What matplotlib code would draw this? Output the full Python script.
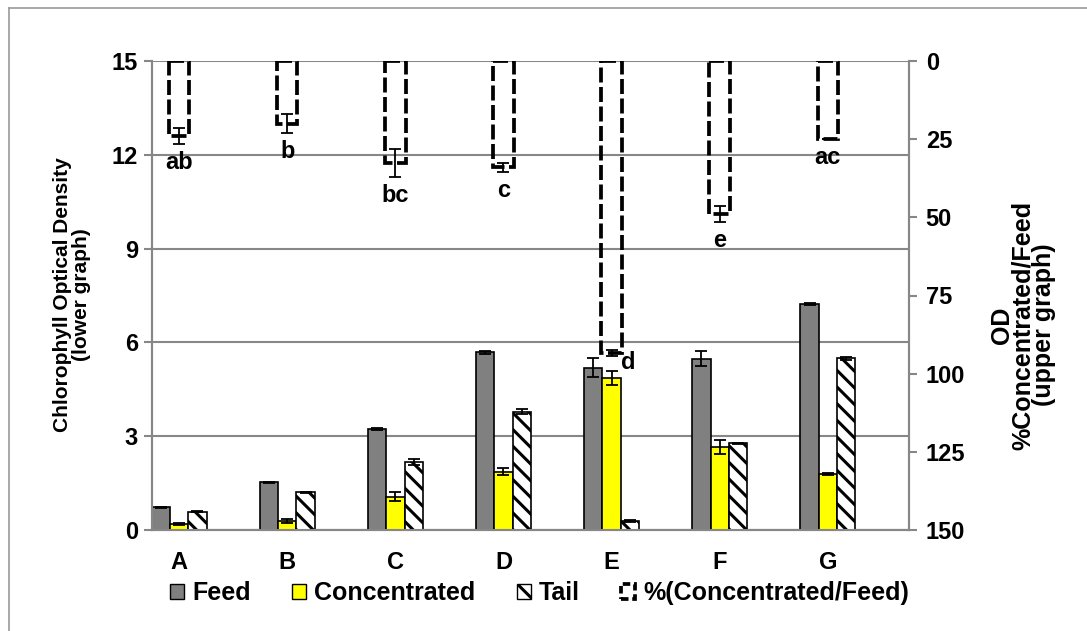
import matplotlib
matplotlib.use("Agg")
import matplotlib.pyplot as plt
import numpy as np
from matplotlib.patches import Patch
from matplotlib.lines import Line2D

# ---- data ----
categories = ["A", "B", "C", "D", "E", "F", "G"]
feed = [0.72, 1.53, 3.23, 5.68, 5.19, 5.47, 7.23]
feed_err = [0.02, 0.02, 0.04, 0.04, 0.30, 0.24, 0.02]
concentrated = [0.19, 0.29, 1.07, 1.87, 4.87, 2.66, 1.78]
conc_err = [0.03, 0.06, 0.15, 0.12, 0.23, 0.23, 0.03]
tail = [0.59, 1.20, 2.18, 3.78, 0.30, 2.77, 5.49]
tail_err = [0.02, 0.03, 0.10, 0.08, 0.03, 0.02, 0.04]
pct = [24.0, 20.0, 32.5, 34.0, 93.5, 49.0, 25.0]
pct_err = [2.5, 3.0, 4.5, 1.5, 1.0, 2.5, 0.0]
letters = ["ab", "b", "bc", "c", "d", "e", "ac"]
left_ticks = [0, 3, 6, 9, 12, 15]
right_ticks = [0, 25, 50, 75, 100, 125, 150]

FONT = "Liberation Sans"
FS = 17
plt.rcParams["font.family"] = [FONT, "DejaVu Sans"]
plt.rcParams["font.weight"] = "bold"
plt.rcParams["hatch.linewidth"] = 2.2

W, H = 1087, 631
fig = plt.figure(figsize=(W / 100, H / 100), dpi=100)
L, R, T, B = 152, 909, 61, 530
ax = fig.add_axes([L / W, 1 - B / H, (R - L) / W, (B - T) / H])
ax2 = ax.twinx()

GRID = "#878787"
x = np.arange(len(categories))
bw = 0.17

ekw = dict(ecolor="black", elinewidth=1.3, capsize=4.5, capthick=1.3)
ax.bar(x - bw, feed, bw, color="#808080", edgecolor="black", linewidth=1.2,
       yerr=feed_err, error_kw=ekw, zorder=3)
ax.bar(x, concentrated, bw, color="#ffff00", edgecolor="black", linewidth=1.2,
       yerr=conc_err, error_kw=ekw, zorder=3)
ax.bar(x + bw, tail, bw, color="white", edgecolor="black", linewidth=1.2,
       hatch="\\\\", yerr=tail_err, error_kw=ekw, zorder=3)

ax.set_xlim(-0.25, 6.75)
ax.set_ylim(0, 15)
ax.set_yticks(left_ticks)
ax.yaxis.grid(True, color=GRID, linewidth=1.5, zorder=0)
ax.set_axisbelow(True)
ax.set_xticks(x)
ax.set_xticklabels(categories, fontsize=FS, fontweight="bold")
ax.tick_params(axis="x", length=0, pad=15)
ax.tick_params(axis="y", length=6, color=GRID, width=1.5, labelsize=FS, pad=4)
ax.spines["top"].set_visible(False)
for s in ["left", "bottom", "right"]:
    ax.spines[s].set_color(GRID)
    ax.spines[s].set_linewidth(1.5)

# upper graph: percent bars on inverted secondary axis
ax2.bar(x, pct, 0.19, fill=False, edgecolor="black", linewidth=2.7,
        linestyle=(0, (4.0, 1.2)), zorder=4)
ax2.errorbar(x, pct, yerr=pct_err, fmt="none", ecolor="black",
             elinewidth=1.3, capsize=4.5, capthick=1.3, zorder=5)
ax2.set_ylim(150, 0)
ax2.set_yticks(right_ticks)
ax2.tick_params(axis="y", length=6, color=GRID, width=1.5, labelsize=FS, pad=6)
ax2.spines["top"].set_visible(False)
for s in ["left", "bottom", "right"]:
    ax2.spines[s].set_color(GRID)
    ax2.spines[s].set_linewidth(1.5)

for i, lab in enumerate(letters):
    if lab == "d":
        ax2.text(x[i] + 0.15, pct[i] + pct_err[i] + 2, lab, ha="center",
                 va="center", fontsize=FS, fontweight="bold", zorder=6)
    else:
        ax2.text(x[i], pct[i] + pct_err[i] + 6, lab, ha="center",
                 va="center", fontsize=FS, fontweight="bold", zorder=6)

# axis titles
fig.text(72 / W, 1 - 295 / H, "Chlorophyll Optical Density\n(lower graph)",
         rotation=90, ha="center", va="center", fontsize=15,
         fontweight="bold", linespacing=1.0)
fig.text(1023 / W, 1 - 325 / H, "OD\n%Concentrated/Feed\n(upper graph)",
         rotation=90, ha="center", va="center", fontsize=18,
         fontweight="bold", linespacing=0.85)

# legend
handles = [
    Patch(facecolor="#808080", edgecolor="black", linewidth=1.0),
    Patch(facecolor="#ffff00", edgecolor="black", linewidth=1.0),
    Patch(facecolor="white", edgecolor="black", linewidth=1.0, hatch="\\\\"),
    Patch(fill=False, edgecolor="black", linewidth=2.7, linestyle=(0, (2.0, 1.0))),
]
labels = ["Feed", "Concentrated", "Tail", "%(Concentrated/Feed)"]
fig.legend(handles, labels, loc="center", bbox_to_anchor=(539.5 / W, 1 - 593 / H),
           ncol=4, frameon=False, handlelength=0.56, handleheight=0.56,
           handletextpad=0.32, columnspacing=1.65, borderpad=0.2,
           prop={"family": [FONT, "DejaVu Sans"], "weight": "bold", "size": 18})

# chart-area border (left and top)
fig.add_artist(Line2D([9 / W, 9 / W], [0, 1 - 8 / H], color="#9a9a9a",
                      linewidth=1.2, transform=fig.transFigure))
fig.add_artist(Line2D([9 / W, 1], [1 - 8 / H, 1 - 8 / H], color="#9a9a9a",
                      linewidth=1.2, transform=fig.transFigure))

fig.savefig("out.png", dpi=100)
